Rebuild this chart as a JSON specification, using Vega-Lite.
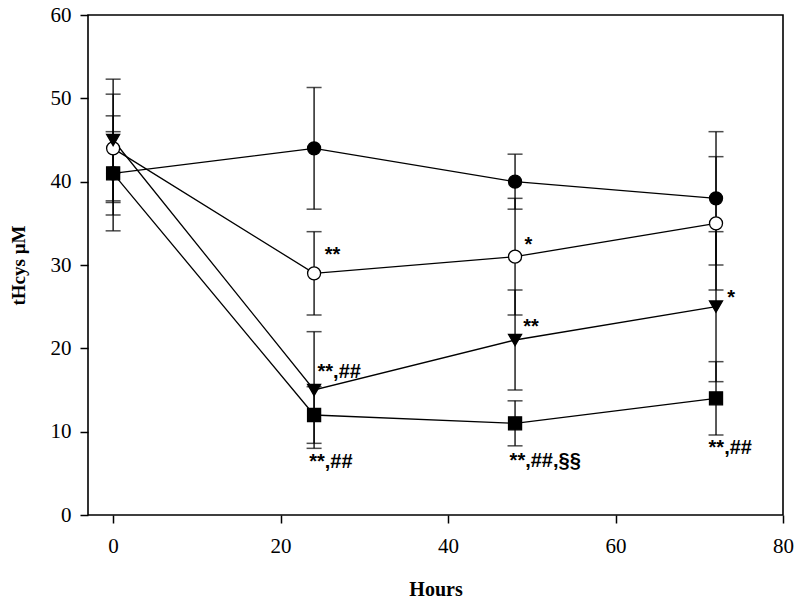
{
  "$schema": "https://vega.github.io/schema/vega-lite/v6.json",
  "width": 695,
  "height": 500,
  "autosize": "none",
  "padding": {"left": 88, "top": 15, "right": 17, "bottom": 93},
  "background": "white",
  "config": {
    "view": {"stroke": "black", "strokeWidth": 1.6},
    "font": "Liberation Serif"
  },
  "datasets": {
    "pts": [
      {"group": "A", "hour": 0, "mean": 41, "lo": 34.1, "hi": 47.9},
      {"group": "A", "hour": 24, "mean": 44, "lo": 36.7, "hi": 51.3},
      {"group": "A", "hour": 48, "mean": 40, "lo": 36.7, "hi": 43.3},
      {"group": "A", "hour": 72, "mean": 38, "lo": 30, "hi": 46},
      {"group": "B", "hour": 0, "mean": 44, "lo": 37.5, "hi": 50.5},
      {"group": "B", "hour": 24, "mean": 29, "lo": 24, "hi": 34},
      {"group": "B", "hour": 48, "mean": 31, "lo": 24, "hi": 38},
      {"group": "B", "hour": 72, "mean": 35, "lo": 27, "hi": 43},
      {"group": "C", "hour": 0, "mean": 45, "lo": 37.7, "hi": 52.3},
      {"group": "C", "hour": 24, "mean": 15, "lo": 8, "hi": 22},
      {"group": "C", "hour": 48, "mean": 21, "lo": 15, "hi": 27},
      {"group": "C", "hour": 72, "mean": 25, "lo": 16, "hi": 34},
      {"group": "D", "hour": 0, "mean": 41, "lo": 36, "hi": 46},
      {"group": "D", "hour": 24, "mean": 12, "lo": 8.6, "hi": 15.4},
      {"group": "D", "hour": 48, "mean": 11, "lo": 8.3, "hi": 13.7},
      {"group": "D", "hour": 72, "mean": 14, "lo": 9.6, "hi": 18.4}
    ],
    "notes": [
      {"hour": 26.2, "val": 31.2, "label": "**"},
      {"hour": 27.0, "val": 17.2, "label": "**,##"},
      {"hour": 26.0, "val": 6.4, "label": "**,##"},
      {"hour": 49.6, "val": 32.4, "label": "*"},
      {"hour": 49.9, "val": 22.6, "label": "**"},
      {"hour": 51.6, "val": 6.5, "label": "**,##,§§"},
      {"hour": 73.8, "val": 26.1, "label": "*"},
      {"hour": 73.7, "val": 8.0, "label": "**,##"}
    ]
  },
  "encoding": {
    "x": {
      "field": "hour", "type": "quantitative",
      "scale": {"domain": [-3, 80], "nice": false, "zero": false},
      "axis": {
        "values": [0, 20, 40, 60, 80], "title": "Hours", "grid": false,
        "domain": false, "tickColor": "black", "tickSize": 8, "tickWidth": 1.5,
        "labelFlush": false, "labelOverlap": false,
        "labelFont": "Liberation Serif", "labelFontSize": 21, "labelColor": "black", "labelPadding": 12,
        "titleFont": "Liberation Serif", "titleFontSize": 20, "titleFontWeight": "bold", "titleColor": "black", "titlePadding": 23
      }
    }
  },
  "layer": [
    {
      "data": {"name": "pts"},
      "mark": {"type": "rule", "color": "black", "strokeWidth": 1.3},
      "encoding": {
        "y": {
          "field": "lo", "type": "quantitative",
          "scale": {"domain": [0, 60], "nice": false},
          "axis": {
            "values": [0, 10, 20, 30, 40, 50, 60], "title": "tHcys µM", "grid": false,
            "domain": false, "tickColor": "black", "tickSize": 8, "tickWidth": 1.5,
            "labelFlush": false, "labelOverlap": false,
            "labelFont": "Liberation Serif", "labelFontSize": 21, "labelColor": "black", "labelPadding": 9,
            "titleFont": "Liberation Serif", "titleFontSize": 19, "titleFontWeight": "bold", "titleColor": "black", "titlePadding": 22
          }
        },
        "y2": {"field": "hi"}
      }
    },
    {
      "data": {"name": "pts"},
      "mark": {"type": "tick", "orient": "horizontal", "color": "black", "size": 15, "thickness": 1.5},
      "encoding": {"y": {"field": "lo", "type": "quantitative"}}
    },
    {
      "data": {"name": "pts"},
      "mark": {"type": "tick", "orient": "horizontal", "color": "black", "size": 15, "thickness": 1.5},
      "encoding": {"y": {"field": "hi", "type": "quantitative"}}
    },
    {
      "data": {"name": "pts"},
      "mark": {"type": "line", "color": "black", "strokeWidth": 1.3},
      "encoding": {
        "y": {"field": "mean", "type": "quantitative"},
        "detail": {"field": "group"}
      }
    },
    {
      "data": {"name": "pts"},
      "mark": {"type": "point", "filled": true, "stroke": "black", "strokeWidth": 1.3, "opacity": 1, "size": 170},
      "encoding": {
        "y": {"field": "mean", "type": "quantitative"},
        "shape": {"field": "group", "type": "nominal", "legend": null,
          "scale": {"domain": ["A", "B", "C", "D"], "range": ["circle", "circle", "triangle-down", "square"]}},
        "fill": {"field": "group", "type": "nominal", "legend": null,
          "scale": {"domain": ["A", "B", "C", "D"], "range": ["black", "white", "black", "black"]}}
      }
    },
    {
      "data": {"name": "notes"},
      "mark": {"type": "text", "font": "Liberation Sans", "fontSize": 20, "fontWeight": "bold", "color": "black", "align": "center", "baseline": "middle"},
      "encoding": {
        "x": {"field": "hour", "type": "quantitative"},
        "y": {"field": "val", "type": "quantitative"},
        "text": {"field": "label"}
      }
    }
  ]
}
